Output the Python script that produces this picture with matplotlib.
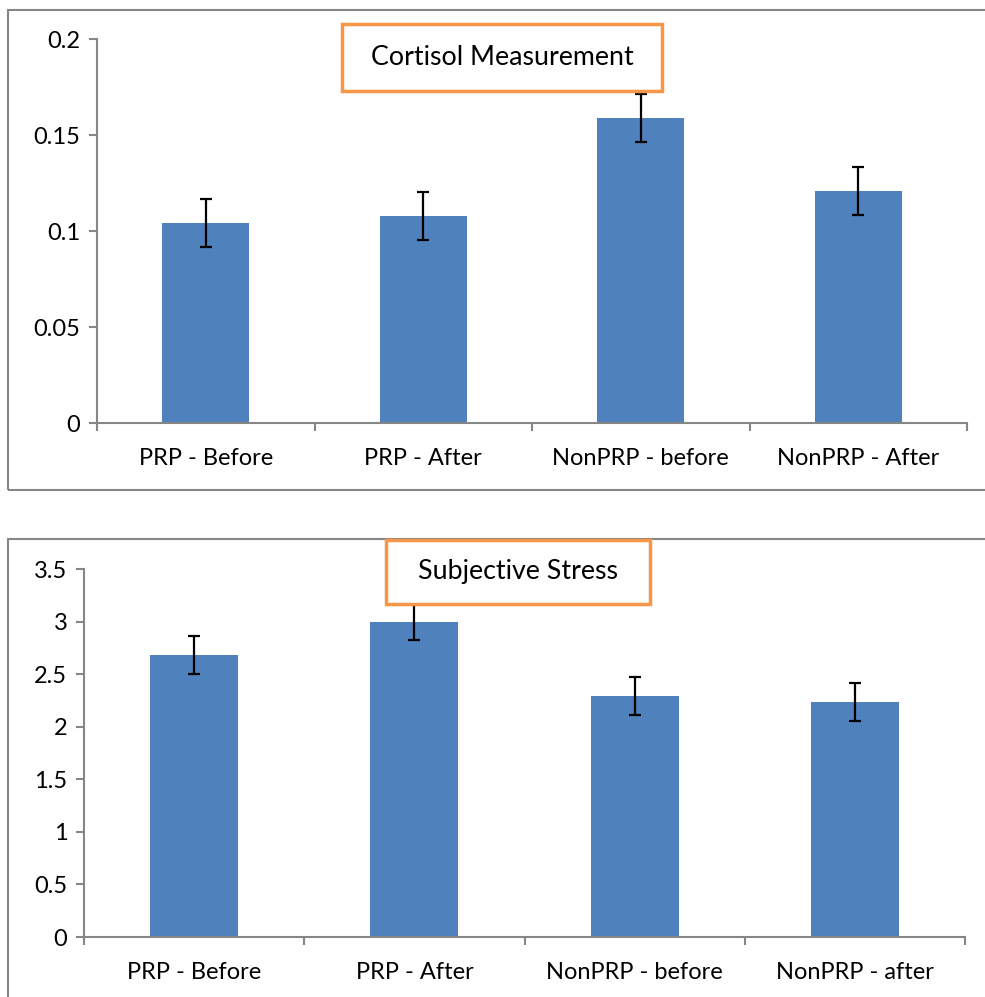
import matplotlib
matplotlib.use('Agg')
import matplotlib.pyplot as plt
from matplotlib.patches import Rectangle
import numpy as np

plt.rcParams['font.family'] = ['Lato', 'DejaVu Sans']

# data
cort_labels = ['PRP - Before', 'PRP - After', 'NonPRP - before', 'NonPRP - After']
cort_vals = [0.104, 0.108, 0.159, 0.121]
cort_err = [0.0125, 0.0125, 0.0125, 0.0125]

stress_labels = ['PRP - Before', 'PRP - After', 'NonPRP - before', 'NonPRP - after']
stress_vals = [2.68, 3.0, 2.29, 2.235]
stress_err = [0.18, 0.18, 0.18, 0.18]

BAR = '#4F81BD'
AXC = '#868686'
ORANGE = '#F79646'
W, H = 985, 997

fig = plt.figure(figsize=(W / 100, H / 100), dpi=100)
fig.patch.set_facecolor('white')


def px(x0, y0, x1, y1):
    # pixel box (top-left origin) -> figure fraction rect
    return [x0 / W, 1 - y1 / H, (x1 - x0) / W, (y1 - y0) / H]


def panel(rect, labels, vals, err, ylim, yticks, yfmt):
    ax = fig.add_axes(rect)
    x = np.arange(len(vals))
    ax.bar(x, vals, width=0.4, color=BAR, zorder=2)
    ax.errorbar(x, vals, yerr=err, fmt='none', ecolor='black', elinewidth=1.6,
                capsize=4.5, capthick=1.6, zorder=3)
    ax.set_xlim(-0.5, len(vals) - 0.5)
    ax.set_ylim(*ylim)
    ax.set_yticks(yticks)
    ax.set_yticklabels([yfmt(v) for v in yticks])
    ax.set_xticks(x)
    ax.set_xticklabels(labels)
    ax.set_xticks(np.arange(-0.5, len(vals)), minor=True)
    for s in ['top', 'right']:
        ax.spines[s].set_visible(False)
    for s in ['left', 'bottom']:
        ax.spines[s].set_color(AXC)
        ax.spines[s].set_linewidth(1.5)
    ax.tick_params(axis='y', length=6, width=1.5, color=AXC, labelsize=17, pad=6)
    ax.tick_params(axis='x', which='major', length=0, labelsize=17, pad=18)
    ax.tick_params(axis='x', which='minor', length=6, width=1.5, color=AXC)
    ax.set_facecolor('none')
    return ax


def title_box(x0, y0, x1, y1, text):
    fig.patches.append(Rectangle((x0 / W, 1 - y1 / H), (x1 - x0) / W, (y1 - y0) / H,
                                 transform=fig.transFigure, facecolor='white',
                                 edgecolor=ORANGE, linewidth=2.5, zorder=10))
    fig.text((x0 + x1) / 2 / W, 1 - (y0 + y1) / 2 / H, text, ha='center', va='center',
             fontsize=19.3, zorder=11)


# outer chart borders
fig.patches.append(Rectangle((8 / W, 1 - 490 / H), 990 / W, 480 / H, transform=fig.transFigure,
                             facecolor='none', edgecolor=AXC, linewidth=1.5, zorder=-1))
fig.patches.append(Rectangle((8 / W, 1 - 1010 / H), 990 / W, 471 / H, transform=fig.transFigure,
                             facecolor='none', edgecolor=AXC, linewidth=1.5, zorder=-1))

panel(px(97, 39, 967, 423), cort_labels, cort_vals, cort_err, (0, 0.2),
      [0, 0.05, 0.1, 0.15, 0.2], lambda v: '0' if v == 0 else f'{v:g}')
panel(px(84, 569, 965, 937), stress_labels, stress_vals, stress_err, (0, 3.5),
      [0, 0.5, 1, 1.5, 2, 2.5, 3, 3.5], lambda v: f'{v:g}')

title_box(342, 24, 662, 91, 'Cortisol Measurement')
title_box(386, 540, 650, 604, 'Subjective Stress')

fig.savefig('out.png', dpi=100)
